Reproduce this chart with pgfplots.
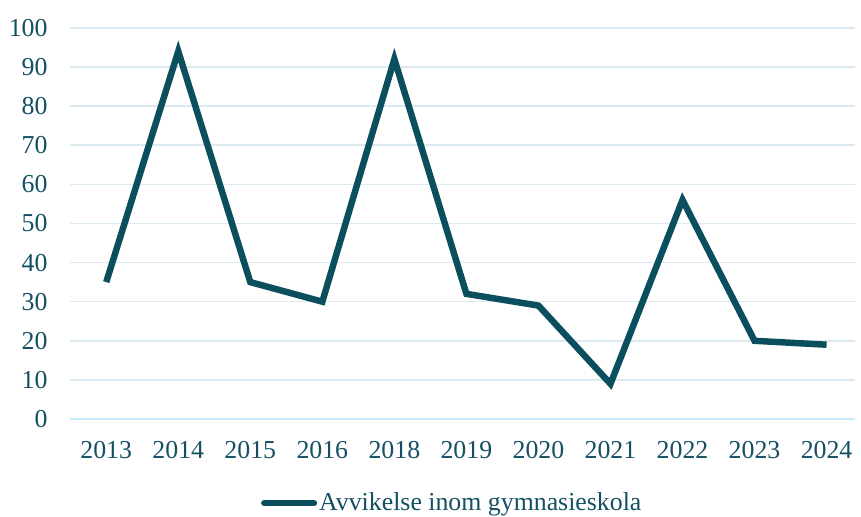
\documentclass[border=0pt]{standalone}
\usepackage{fontspec}
\setmainfont{Liberation Serif}
\usepackage{pgfplots}
\pgfplotsset{compat=1.18}
\definecolor{lineTeal}{RGB}{11,79,94}
\definecolor{txtTeal}{RGB}{20,80,98}
\definecolor{gridBlue}{RGB}{218,234,240}
\definecolor{baseCyan}{RGB}{196,236,248}
\begin{document}
\fontsize{26}{31}\selectfont
\begin{tikzpicture}
\begin{axis}[
  scale only axis,
  width=790pt,height=394pt,
  xmin=-0.5,xmax=10.39,
  ymin=0,ymax=100,
  xtick={0,...,10},
  xticklabels={2013,2014,2015,2016,2018,2019,2020,2021,2022,2023,2024},
  ytick={0,10,...,100},
  major tick length=0pt,
  axis x line*=bottom,
  axis y line*=left,
  x axis line style={draw=baseCyan,line width=1.5pt,-},
  y axis line style={draw=none},
  ymajorgrids=true,
  grid style={draw=gridBlue,line width=1.5pt},
  tick label style={font=\fontsize{26}{31}\selectfont,text=txtTeal},
  /pgf/number format/assume math mode=true,
  yticklabel style={anchor=east,xshift=-14pt},
  xticklabel style={anchor=north,yshift=-14pt},
  clip=false,
  legend style={draw=none,fill=none,at={(0.487,-0.215)},anchor=center,
    font=\fontsize{26}{31}\selectfont,text=txtTeal,inner sep=0pt},
  legend cell align=left,
  legend image code/.code={\draw[#1,line cap=round] (0pt,0pt) -- (50pt,0pt);},
]
\addplot[color=lineTeal,line width=6.5pt,line join=miter,mark=none] coordinates {
  (0,35) (1,94) (2,35) (3,30) (4,92) (5,32) (6,29) (7,9) (8,56) (9,20) (10,19)
};
\addlegendentry{Avvikelse inom gymnasieskola}
\end{axis}
\path (-70.7pt,-94pt) rectangle (790.3pt,422pt);
\end{tikzpicture}
\end{document}
